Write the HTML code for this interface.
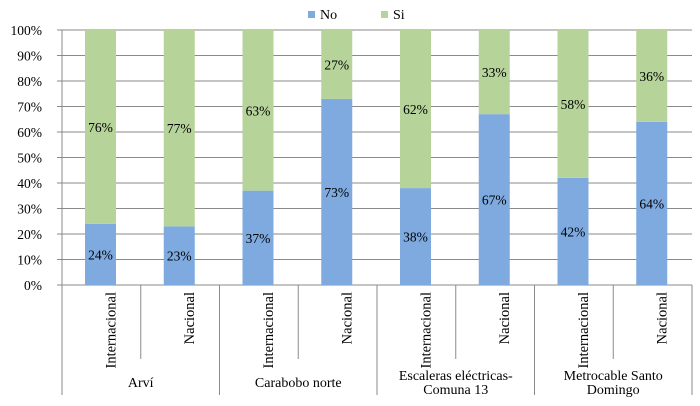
<!DOCTYPE html>
<html><head><meta charset="utf-8"><style>
body{margin:0;background:#fff}
svg{display:block;font-family:"Liberation Serif",serif}
</style></head><body>
<svg width="700" height="406">
<g id="grid"></g><g id="bars"></g><g id="axes"></g>
<g>
<rect x="308" y="11" width="7" height="7" fill="#7eaadf"/>
<text x="320" y="19" font-size="14">No</text>
<rect x="381" y="11" width="7" height="7" fill="#b6d39a"/>
<text x="393" y="19" font-size="14">Si</text>
</g>
</svg>
<script>
const categories=["Internacional","Nacional","Internacional","Nacional","Internacional","Nacional","Internacional","Nacional"];
const groups=[["Arví"],["Carabobo norte"],["Escaleras eléctricas-","Comuna 13"],["Metrocable Santo","Domingo"]];
const noValues=[24,23,37,73,38,67,42,64];
const siValues=[76,77,63,27,62,33,58,36];
const yTicks=[0,10,20,30,40,50,60,70,80,90,100];
const NS="http://www.w3.org/2000/svg";
const L=62,R=692,T=30,B=285,cw=(R-L)/categories.length,bw=31;
const y=v=>B-(B-T)*v/100;
const x=i=>L+i*cw;
function mk(p,tag,at,txt){const e=document.createElementNS(NS,tag);for(const k in at)e.setAttribute(k,at[k]);if(txt!=null)e.textContent=txt;p.appendChild(e);return e;}
const grid=document.getElementById('grid'),bars=document.getElementById('bars'),axes=document.getElementById('axes');
yTicks.forEach(t=>{
 const ln=mk(grid,'line',{x1:57,x2:R,y1:y(t),y2:y(t),stroke:'#8a8a8a','stroke-width':1});
 
 
 const tx=mk(axes,'text',{x:42,y:y(t)+5,'font-size':13.5,'text-anchor':'end'},t+'%');
 
 
});
categories.forEach((c,i)=>{
 const bx=x(i)+23;
 const r1=mk(bars,'rect',{x:bx,y:y(noValues[i]),width:bw,height:B-y(noValues[i]),fill:'#7eaadf'});
 
 
 const r2=mk(bars,'rect',{x:bx,y:y(noValues[i]+siValues[i]),width:bw,height:y(noValues[i])-y(noValues[i]+siValues[i]),fill:'#b6d39a'});
 
 
 const l1=mk(bars,'text',{x:bx+bw/2,y:(B+y(noValues[i]))/2+5,'font-size':13.5,'text-anchor':'middle'},noValues[i]+'%');
 
 
 const l2=mk(bars,'text',{x:bx+bw/2,y:(y(noValues[i])+y(noValues[i]+siValues[i]))/2+5,'font-size':13.5,'text-anchor':'middle'},siValues[i]+'%');
 
 
 const cx=x(i)+cw/2+14;
 const ct=mk(axes,'text',{x:cx,y:292,'font-size':14.5,'text-anchor':'end',transform:'rotate(-90 '+cx+' 292)'},c);
 
 
 if(i%2==1){const s=mk(axes,'line',{x1:x(i),x2:x(i),y1:B,y2:359,stroke:'#8a8a8a'});
 
 }
});
mk(axes,'line',{x1:L,x2:L,y1:T,y2:B,stroke:'#8a8a8a'});
groups.forEach((g,j)=>{
 const gx=x(j*2);
 const s=mk(axes,'line',{x1:gx,x2:gx,y1:B,y2:395,stroke:'#8a8a8a'});
 
 
 const cx=gx+cw;
 g.forEach((line,k)=>{
  const t=mk(axes,'text',{x:cx,y:(g.length==1?387:380+k*14),'font-size':14,'text-anchor':'middle'},line);
  
  
 });
});
const e=mk(axes,'line',{x1:R,x2:R,y1:B,y2:395,stroke:'#8a8a8a'});


</script>
</body></html>
